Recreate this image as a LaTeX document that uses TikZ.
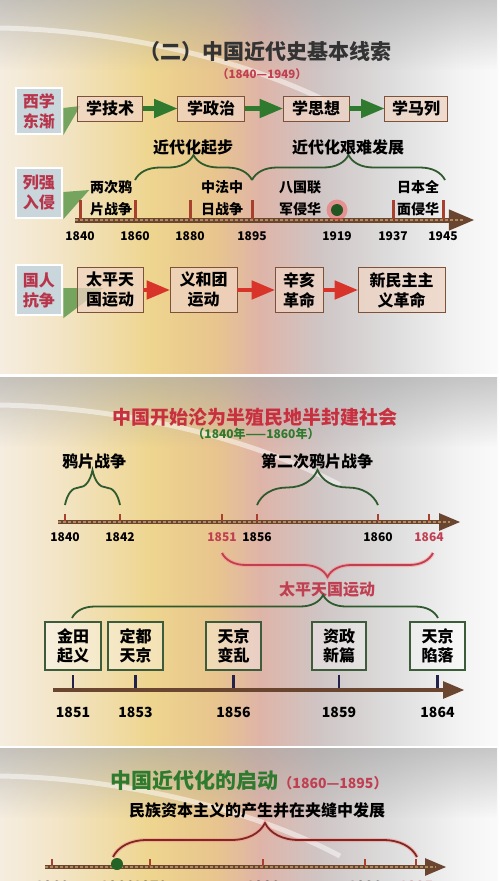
\documentclass[tikz,border=0pt]{standalone}
\usepackage{fontspec}
\setmainfont{Noto Sans CJK SC}
\usetikzlibrary{arrows,positioning,calc,fadings,decorations.pathreplacing}
\newcommand{\fsz}[2]{\fontsize{#1}{#2}\selectfont}
\definecolor{labfill}{HTML}{C9D6DC}
\definecolor{labtext}{HTML}{B8344A}
\definecolor{boxfill}{HTML}{F0D4C4}
\definecolor{boxline}{HTML}{7E5238}
\definecolor{arrgreen}{HTML}{2F7A2F}
\definecolor{wedgegreen}{HTML}{5E9A4E}
\definecolor{arrred}{HTML}{D8342A}
\definecolor{bracegreen}{HTML}{2E5A2E}
\definecolor{boxgreen}{HTML}{3C5C3C}
\definecolor{axisbrown}{HTML}{6A4530}
\definecolor{axislight}{HTML}{B08A5C}
\definecolor{tickred}{HTML}{A8402E}
\definecolor{ticknavy}{HTML}{22224A}
\definecolor{titlered}{HTML}{C8303F}
\definecolor{yearred}{HTML}{C04052}
\definecolor{titlegreen}{HTML}{2E7A2E}
\definecolor{bracebrown}{HTML}{7A2A22}
\definecolor{bgA}{HTML}{F5EDE0}
\definecolor{bgB}{HTML}{F2E3C0}
\definecolor{bgC}{HTML}{EED58F}
\definecolor{bgD}{HTML}{E8C58E}
\definecolor{bgE}{HTML}{DFB4A8}
\definecolor{bgF}{HTML}{CFC5C5}
\definecolor{bgG}{HTML}{DDDCDC}
\definecolor{bgH}{HTML}{F3F3F3}
\definecolor{bgI}{HTML}{FAFAFA}

\begin{document}
\begin{tikzpicture}[x=1pt,y=-1pt,
  lab/.style={draw=white,line width=2.5pt,fill=labfill,text=labtext,font=\fsz{16}{20}\bfseries,
    minimum width=46,minimum height=46,inner sep=0pt,align=center},
  box/.style={draw=boxline,line width=0.8pt,fill=boxfill,fill opacity=0.75,text opacity=1,
    font=\fsz{16}{20}\bfseries,minimum height=25,inner sep=0pt,align=center},
  gbox/.style={draw=boxgreen,line width=1.2pt,fill=white,fill opacity=0.35,text opacity=1,
    font=\fsz{16}{19}\bfseries,minimum height=48,inner sep=0pt,align=center},
  evt/.style={font=\fsz{14}{22}\bfseries,align=center},
  year/.style={font=\fsz{12}{12}\bfseries},
  bigyear/.style={font=\fsz{14}{14}\bfseries},
  grnarr/.style={arrgreen,line width=4.5pt,-triangle 45},
  redarr/.style={arrred,line width=4.5pt,-triangle 45},
  axisline/.style={axisbrown,line width=5pt,-triangle 45},
  axisdash/.style={axislight,line width=1.5pt,dash pattern=on 3pt off 2pt},
  brc/.style={decorate,decoration={brace,amplitude=#1},line width=1.8pt},
  tick/.style={tickred,line width=3pt},
  wedge/.style={fill=wedgegreen,fill opacity=0.85}]

\useasboundingbox (0,0) rectangle (500,881);
\clip (0,0) rectangle (500,881);
\fill[white] (0,0) rectangle (500,881);
\foreach \ya/\yb in {0/373,377/745,748/881}{
  \foreach \xa/\xb/\ca/\cb in {0/70/bgA/bgB,70/150/bgB/bgC,150/215/bgC/bgD,215/260/bgD/bgE,
      260/320/bgE/bgF,320/390/bgF/bgG,390/460/bgG/bgH,460/498/bgH/bgI}
    \shade[left color=\ca,right color=\cb] (\xa,\ya) rectangle (\xb,\yb);
  \fill[gray!70,path fading=south,fill opacity=0.6] (0,\ya) rectangle (498,\ya+70);
  \draw[white,line width=5pt,opacity=0.5] (0,\ya+28) .. controls (120,\ya+30) and (250,\ya+60) .. (340,\ya+108);
}

% panel 1
\node[font=\fsz{21}{21}\bfseries,text=black!80] (title1) at (265,52) {（二）中国近代史基本线索};
\node[font=\fsz{11.5}{11.5}\bfseries,text=yearred] (sub1) at (262,74) {（1840—1949）};

\node[lab] (west) at (39,111) {西学\\东渐};
\node[lab,minimum height=50] (invade) at (39,193) {列强\\入侵};
\node[lab,minimum height=50] (resist) at (39,290) {国人\\抗争};

\fill[wedge] (west.east) ++(0,-3) -- ++(17,-2) -- (west.south east) -- cycle;
\fill[wedge] (invade.east) ++(0,-1) -- ++(26,-2) -- (invade.south east) -- cycle;
\fill[wedge] (resist.east) ++(0,-2) -- ++(40,0) -- ([yshift=-2]resist.south east) -- cycle;

\node[box,minimum width=65] (tech) at (110,108.5) {学技术};
\node[box,minimum width=67] (polit) at (211,108.5) {学政治};
\node[box,minimum width=66] (thought) at (316,108.5) {学思想};
\node[box,minimum width=63] (marx) at (416,108.5) {学马列};
\draw[grnarr] (tech) -- (polit);
\draw[grnarr] (polit) -- (thought);
\draw[grnarr] (thought) -- (marx);

\coordinate (a1s) at (75,220);
\coordinate (a1e) at (474,220);
\draw[axisline] (a1s) -- (a1e);
\draw[axisdash] (a1s) -- ([xshift=-10]a1e);
\foreach \x/\yr in {80/1840,135/1860,190/1880,252/1895,393/1937,443/1945}{
  \draw[tick] (\x,200) -- (\x,219);
  \node[year] (p1y\yr) at (\x,236) {\yr};
}
\node[year] (p1y1919) at (337,236) {1919};
\fill[red!70,opacity=0.45] (337,210) circle (10.5);
\fill[arrgreen!70!black] (337,210) circle (6);

\node[evt] (opium) at (111,198) {两次鸦\\片战争};
\node[evt] (sinofr) at (222,198) {中法中\\日战争};
\node[evt] (allied) at (300,198) {八国联\\军侵华};
\node[evt] (japan) at (418,198) {日本全\\面侵华};

\coordinate (b1a) at (p1y1860 |- 0,180);
\coordinate (b1b) at (p1y1895 |- 0,180);
\coordinate (b1c) at (445,180);
\draw[brc=25,bracegreen] (b1a) -- (b1b);
\draw[brc=25,bracegreen] (b1b) -- (b1c);
\node[font=\fsz{16}{16}\bfseries] (start) at (193,147) {近代化起步};
\node[font=\fsz{16}{16}\bfseries] (hard) at (348,147) {近代化艰难发展};

\node[box,minimum width=66,minimum height=45] (taiping) at (110,290) {太平天\\国运动};
\node[box,minimum width=67,minimum height=45] (boxer) at (203.5,290) {义和团\\运动};
\node[box,minimum width=48,minimum height=45] (xinhai) at (299,290) {辛亥\\革命};
\node[box,minimum width=87,minimum height=45] (newdem) at (401.5,290) {新民主主\\义革命};
\draw[redarr] (taiping) -- (boxer);
\draw[redarr] (boxer) -- (xinhai);
\draw[redarr] (xinhai) -- (newdem);

% panel 2
\node[font=\fsz{19}{19}\bfseries,text=titlered] (title2) at (255,417) {中国开始沦为半殖民地半封建社会};
\node[font=\fsz{12}{12}\bfseries,text=titlegreen] (sub2) at (256,434) {（1840年——1860年）};

\coordinate (a2s) at (58,522);
\coordinate (a2e) at (460,522);
\draw[axisline,line width=4pt] (a2s) -- (a2e);
\draw[axisdash] (a2s) -- ([xshift=-10]a2e);
\foreach \x/\yr/\c in {65/1840/black,120/1842/black,222/1851/yearred,257/1856/black,378/1860/black,429/1864/yearred}{
  \draw[tickred,line width=2pt] (\x,514) -- (\x,521);
  \node[year,text=\c] (p2y\yr) at (\x,537) {\yr};
}
\draw[brc=35,bracegreen] (65,505) -- (120,505);
\draw[brc=35,bracegreen] (257,505) -- (378,505);
\node[font=\fsz{16}{16}\bfseries,anchor=south] (war1) at (94,473) {鸦片战争};
\node[font=\fsz{16}{16}\bfseries,anchor=south] (war2) at (317,473) {第二次鸦片战争};

\draw[brc=24,red!45,line width=4pt,opacity=0.5] (433,553) -- (222,553);
\draw[brc=24,yearred] (433,553) -- (222,553);
\node[font=\fsz{16}{16}\bfseries,text=yearred] (tpmove) at (327,590) {太平天国运动};
\draw[decorate,decoration={brace,amplitude=23,aspect=0.686},line width=1.8pt,bracegreen] (72,618) -- (438,618);

\node[gbox,minimum width=56] (jintian) at (73,646) {金田\\起义};
\node[gbox,minimum width=55] (dingdu) at (135.5,646) {定都\\天京};
\node[gbox,minimum width=55] (bianluan) at (233.5,646) {天京\\变乱};
\node[gbox,minimum width=54] (zizheng) at (339,646) {资政\\新篇};
\node[gbox,minimum width=55] (xianluo) at (437.5,646) {天京\\陷落};

\coordinate (a3s) at (53,690);
\coordinate (a3e) at (464,690);
\draw[axisline,line width=4pt] (a3s) -- (a3e);
\foreach \n/\yr in {jintian/1851,dingdu/1853,bianluan/1856,zizheng/1859,xianluo/1864}{
  \draw[ticknavy,line width=2.5pt] (\n.south |- 0,675) -- (\n.south |- 0,688);
  \node[bigyear] (p3y\yr) at (\n.south |- 0,712) {\yr};
}

% panel 3
\node[font=\fsz{21}{21}\bfseries,text=titlegreen] (title3) at (249,780) {中国近代化的启动\fsz{14}{14}\color{yearred}（1860—1895）};
\node[font=\fsz{16}{16}\bfseries] (capital) at (257,810) {民族资本主义的产生并在夹缝中发展};
\draw[brc=34,red!45,line width=4pt,opacity=0.5] (113,857) -- (417,857);
\draw[brc=34,bracebrown] (113,857) -- (417,857);

\coordinate (a4s) at (45,867);
\coordinate (a4e) at (446,867);
\draw[axisline,line width=4pt] (a4s) -- (a4e);
\draw[axisdash] (a4s) -- ([xshift=-10]a4e);
\foreach \x/\yr/\c in {52/1860/black,150/1870/black,263/1880/black,365/1890/black,416/1895/yearred}{
  \draw[tickred,line width=2pt] (\x,859) -- (\x,866);
  \node[bigyear,text=\c] (p4y\yr) at (\x,886) {\yr};
}
\node[bigyear] (p4y1866) at (117,886) {1866};
\fill[arrgreen!80!black] (117,864) circle (6);
\end{tikzpicture}
\end{document}
